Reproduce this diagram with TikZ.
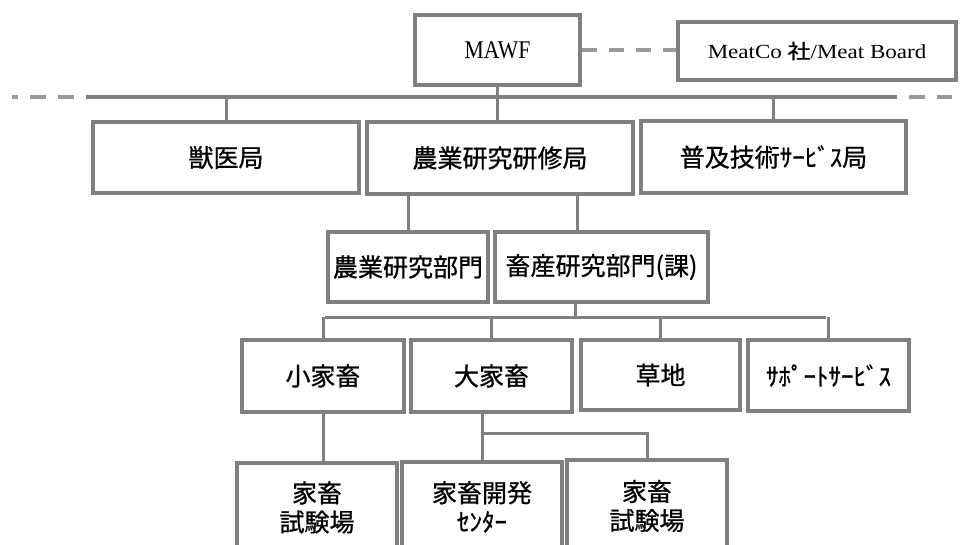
\documentclass[tikz,border=0pt]{standalone}
\usepackage{fontspec}
\setmainfont{Liberation Serif}
\newfontfamily\jp{Noto Sans CJK JP}[FakeBold=0.8]
\definecolor{lg}{HTML}{808080}
\definecolor{dg}{HTML}{9A9A9A}
\newcommand\bx[6]{\node[box, minimum width={(#4-#2)*1pt}, minimum height={(#5-#3)*1pt}] (#1) at ({(#2+#4)/2},{(#3+#5)/2}) {#6};}
\tikzset{
  box/.style={draw=lg, line width=4pt, fill=white, inner sep=0pt, align=center,
    font=\jp\fontsize{25}{29}\selectfont},
  conn/.style={draw=lg, line width=3pt},
  bus/.style={draw=lg, line width=4pt},
  dsh/.style={draw=dg, line width=4pt, dash pattern=on 15pt off 12pt},
}
\begin{document}
\begin{tikzpicture}[x=1pt,y=-1pt]
\useasboundingbox (0,0) rectangle (963,544);
\clip (0,0) rectangle (963,544);
% bus lines
\coordinate (busL) at (86,97);
\coordinate (busR) at (897,97);
\coordinate (dl) at (12,97);
\coordinate (dr) at (952,97);
\coordinate (bus4) at (575,317);
\coordinate (bus4L) at (325,317);
\coordinate (bus4R) at (826,317);
% boxes
\bx{mawf}{415}{15}{580}{85}{\raisebox{-1pt}{\scalebox{0.85}[1]{\rmfamily\fontsize{25.5}{28}\selectfont MAWF}}}
\bx{meat}{678}{22}{956}{80}{\raisebox{-5pt}{\scalebox{1.15}[1]{\rmfamily\fontsize{20}{24}\selectfont MeatCo {\jp 社}/Meat Board}}}
\bx{jui}{93}{122}{359}{193}{獣医局}
\bx{nou}{367}{122}{633}{194}{農業研究研修局}
\bx{fukyu}{641}{121}{906}{193}{普及技術ｻｰﾋﾞｽ局}
\bx{nbu}{328}{232}{488}{302}{農業研究部門}
\bx{cbu}{495}{232}{708}{302}{畜産研究部門(課)}
\bx{shou}{242}{340}{404}{412}{小家畜}
\bx{dai}{411}{340}{572}{412}{大家畜}
\bx{sou}{581}{340}{740}{410}{草地}
\bx{sup}{748}{340}{909}{411}{ｻﾎﾟｰﾄｻｰﾋﾞｽ}
\bx{shiken1}{237}{463}{397}{552}{家畜\\試験場}
\bx{kaihatsu}{402}{462}{562}{552}{家畜開発\\ｾﾝﾀｰ}
\bx{shiken2}{567}{460}{727}{552}{家畜\\試験場}
% connectors
\draw[dsh] (mawf.east) -- (mawf.east -| meat.west);
\draw[bus] (busL) -- (busR);
\draw[dsh, dash pattern=on 16pt off 12pt, dash phase=16pt] (busL) -- (dl);
\draw[dsh, dash pattern=on 16pt off 12pt, dash phase=16pt] (busR) -- (dr);
\draw[conn] (mawf.south) -- (mawf.south |- busL);
\draw[conn] (jui.north) -- (jui.north |- busL);
\draw[conn] (nou.north -| mawf.south) -- (mawf.south |- busL);
\draw[conn] (fukyu.north) -- (fukyu.north |- busL);
\draw[conn] (nbu.north) -- (nbu.north |- nou.south);
\draw[conn] (cbu.north -| 577,0) -- (nou.south -| 577,0);
\draw[conn] (cbu.south -| bus4) -- (bus4);
\draw[conn] (bus4L) -- (bus4R);
\draw[conn] (shou.north |- bus4) -- (shou.north);
\draw[conn] (dai.north |- bus4) -- (dai.north);
\draw[conn] (sou.north |- bus4) -- (sou.north);
\draw[conn] (sup.north |- bus4) -- (sup.north);
\draw[conn] (shou.south) -- (shou.south |- shiken1.north);
\draw[conn] (kaihatsu.north) -- (kaihatsu.north |- dai.south);
\draw[conn] (kaihatsu.north |- 0,433) -| (shiken2.north);
\end{tikzpicture}
\end{document}
